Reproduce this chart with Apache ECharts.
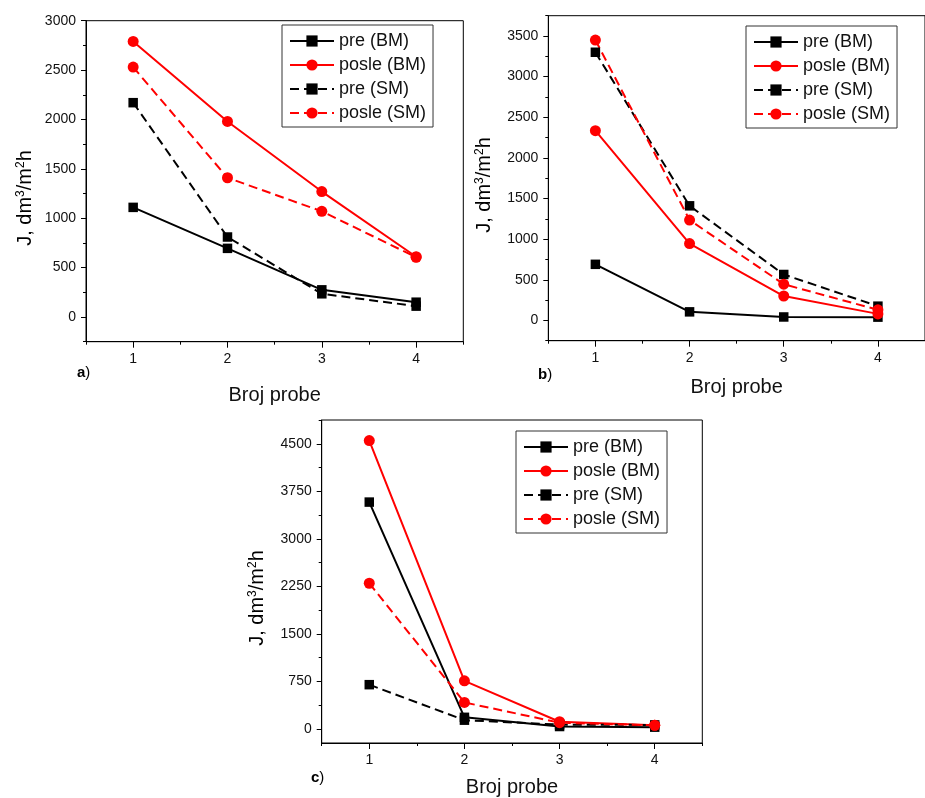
<!DOCTYPE html>
<html>
<head>
<meta charset="utf-8">
<script src="https://cdn.jsdelivr.net/npm/echarts@6/dist/echarts.min.js"></script>
<style>
html,body{margin:0;padding:0;background:#fff;}
#chart{width:925px;height:798px;}
</style>
</head>
<body>
<div id="chart"></div>
<script>
// ---- data ----
const samples = [1, 2, 3, 4];
const seriesNames = ['pre (BM)', 'posle (BM)', 'pre (SM)', 'posle (SM)'];

// panel a
const preBM_a   = [1110, 695, 275, 150];
const posleBM_a = [2790, 1980, 1270, 610];
const preSM_a   = [2170, 810, 235, 110];
const posleSM_a = [2530, 1410, 1070, 605];
// panel b
const preBM_b   = [690, 105, 42, 40];
const posleBM_b = [2335, 945, 300, 80];
const preSM_b   = [3300, 1410, 565, 175];
const posleSM_b = [3450, 1235, 445, 130];
// panel c
const preBM_c   = [3580, 185, 40, 30];
const posleBM_c = [4550, 760, 115, 60];
const preSM_c   = [700, 140, 70, 65];
const posleSM_c = [2300, 420, 100, 60];

// tick labels
const xMajor = [1, 2, 3, 4];
const xMinor = [0.5, 1.5, 2.5, 3.5, 4.5];
const yMajor_a = [0, 500, 1000, 1500, 2000, 2500, 3000];
const yMinor_a = [-250, 250, 750, 1250, 1750, 2250, 2750];
const yMajor_b = [0, 500, 1000, 1500, 2000, 2500, 3000, 3500];
const yMinor_b = [-250, 250, 750, 1250, 1750, 2250, 2750, 3250, 3750];
const yMajor_c = [0, 750, 1500, 2250, 3000, 3750, 4500];
const yMinor_c = [375, 1125, 1875, 2625, 3375, 4125, 4875];

const FONT = '"Liberation Sans", Arial, sans-serif';

const panels = [
  {data: [preBM_a, posleBM_a, preSM_a, posleSM_a], yMin: -250, yMax: 3000, yMajor: yMajor_a, yMinor: yMinor_a,
   grid: {left: 86, top: 20.7, width: 377.3, height: 321}, nameGap: 44,
   legend: {left: 282, top: 25}},
  {data: [preBM_b, posleBM_b, preSM_b, posleSM_b], yMin: -250, yMax: 3750, yMajor: yMajor_b, yMinor: yMinor_b,
   grid: {left: 548.3, top: 15.7, width: 389.7, height: 325}, nameGap: 37,
   legend: {left: 746, top: 26}},
  {data: [preBM_c, posleBM_c, preSM_c, posleSM_c], yMin: -220, yMax: 4875, yMajor: yMajor_c, yMinor: yMinor_c,
   grid: {left: 321.7, top: 420, width: 380.6, height: 324}, nameGap: 34,
   legend: {left: 516, top: 431}}
];

const styles = [
  {color: '#000000', symbol: 'rect', size: 9.5, dash: 'solid'},
  {color: '#ff0000', symbol: 'circle', size: 11, dash: 'solid'},
  {color: '#000000', symbol: 'rect', size: 9.5, dash: [9, 5]},
  {color: '#ff0000', symbol: 'circle', size: 11, dash: [9, 5]}
];

const plain = v => String(v);

const grids = [], xAxes = [], yAxes = [], series = [], legends = [];
panels.forEach((p, g) => {
  grids.push(Object.assign({show: true, borderColor: '#000', borderWidth: 1, backgroundColor: 'transparent'}, p.grid));
  const xi = xAxes.length;
  xAxes.push({
    type: 'value', gridIndex: g, position: 'bottom', min: 0.5, max: 4.5,
    axisLine: {show: true, onZero: false, lineStyle: {color: '#000', width: 1}},
    axisTick: {show: true, customValues: xMajor, length: 6, lineStyle: {color: '#000'}},
    axisLabel: {show: true, customValues: xMajor, formatter: plain, color: '#111', fontSize: 14, fontFamily: FONT, margin: 10},
    splitLine: {show: false},
    name: 'Broj probe', nameLocation: 'middle', nameGap: p.nameGap,
    nameTextStyle: {fontSize: 20, color: '#111', fontFamily: FONT}
  });
  xAxes.push({
    type: 'value', gridIndex: g, position: 'bottom', min: 0.5, max: 4.5,
    axisLine: {show: false, onZero: false},
    axisTick: {show: true, customValues: xMinor, length: 3, lineStyle: {color: '#000'}},
    axisLabel: {show: false},
    splitLine: {show: false}
  });
  const yi = yAxes.length;
  yAxes.push({
    type: 'value', gridIndex: g, position: 'left', min: p.yMin, max: p.yMax,
    axisLine: {show: true, onZero: false, lineStyle: {color: '#000', width: 1}},
    axisTick: {show: true, customValues: p.yMajor, length: 5, lineStyle: {color: '#000'}},
    axisLabel: {show: true, customValues: p.yMajor, formatter: plain, color: '#111', fontSize: 14, fontFamily: FONT, margin: 10},
    splitLine: {show: false}
  });
  yAxes.push({
    type: 'value', gridIndex: g, position: 'left', min: p.yMin, max: p.yMax,
    axisLine: {show: false, onZero: false},
    axisTick: {show: true, customValues: p.yMinor, length: 3, lineStyle: {color: '#000'}},
    axisLabel: {show: false},
    splitLine: {show: false}
  });
  p.data.forEach((vals, k) => {
    const s = styles[k];
    series.push({
      type: 'line', name: seriesNames[k], xAxisIndex: xi, yAxisIndex: yi,
      data: samples.map((x, i) => [x, vals[i]]),
      symbol: s.symbol, symbolSize: s.size,
      itemStyle: {color: s.color},
      lineStyle: {color: s.color, width: 2, type: s.dash},
      emphasis: {disabled: true},
      animation: false
    });
  });
  legends.push({
    orient: 'vertical', left: p.legend.left, top: p.legend.top,
    data: seriesNames, selectedMode: false,
    itemWidth: 44, itemHeight: 14, itemGap: 6,
    padding: [7, 7, 5, 7],
    borderColor: '#333', borderWidth: 1, backgroundColor: '#fff',
    textStyle: {fontSize: 18, color: '#111', fontFamily: FONT, lineHeight: 18}
  });
});

const ylabRich = {
  m: {fontSize: 20, fontFamily: FONT, color: '#111'},
  s: {fontSize: 12, fontFamily: FONT, color: '#111', padding: [0, 0, 9, 0]}
};
function ylab(x, y) {
  return {type: 'text', x: x, y: y, rotation: Math.PI / 2,
    style: {text: '{m|J, dm}{s|3}{m|/m}{s|2}{m|h}', rich: ylabRich, align: 'center', verticalAlign: 'middle'}};
}
const plRich = {
  b: {fontSize: 15, fontWeight: 'bold', fontFamily: FONT, color: '#111'},
  n: {fontSize: 15, fontFamily: FONT, color: '#111'}
};
function plab(x, y, ch) {
  return {type: 'text', x: x, y: y, style: {text: '{b|' + ch + '}{n|)}', rich: plRich, align: 'left', verticalAlign: 'middle'}};
}

const chart = echarts.init(document.getElementById('chart'), null, {renderer: 'canvas'});
chart.setOption({
  animation: false,
  backgroundColor: '#fff',
  grid: grids, xAxis: xAxes, yAxis: yAxes, series: series, legend: legends,
  graphic: [ylab(25, 198), ylab(484, 185), ylab(257, 598), plab(77, 373, 'a'), plab(538, 375, 'b'), plab(311, 778, 'c')]
});
</script>
</body>
</html>
